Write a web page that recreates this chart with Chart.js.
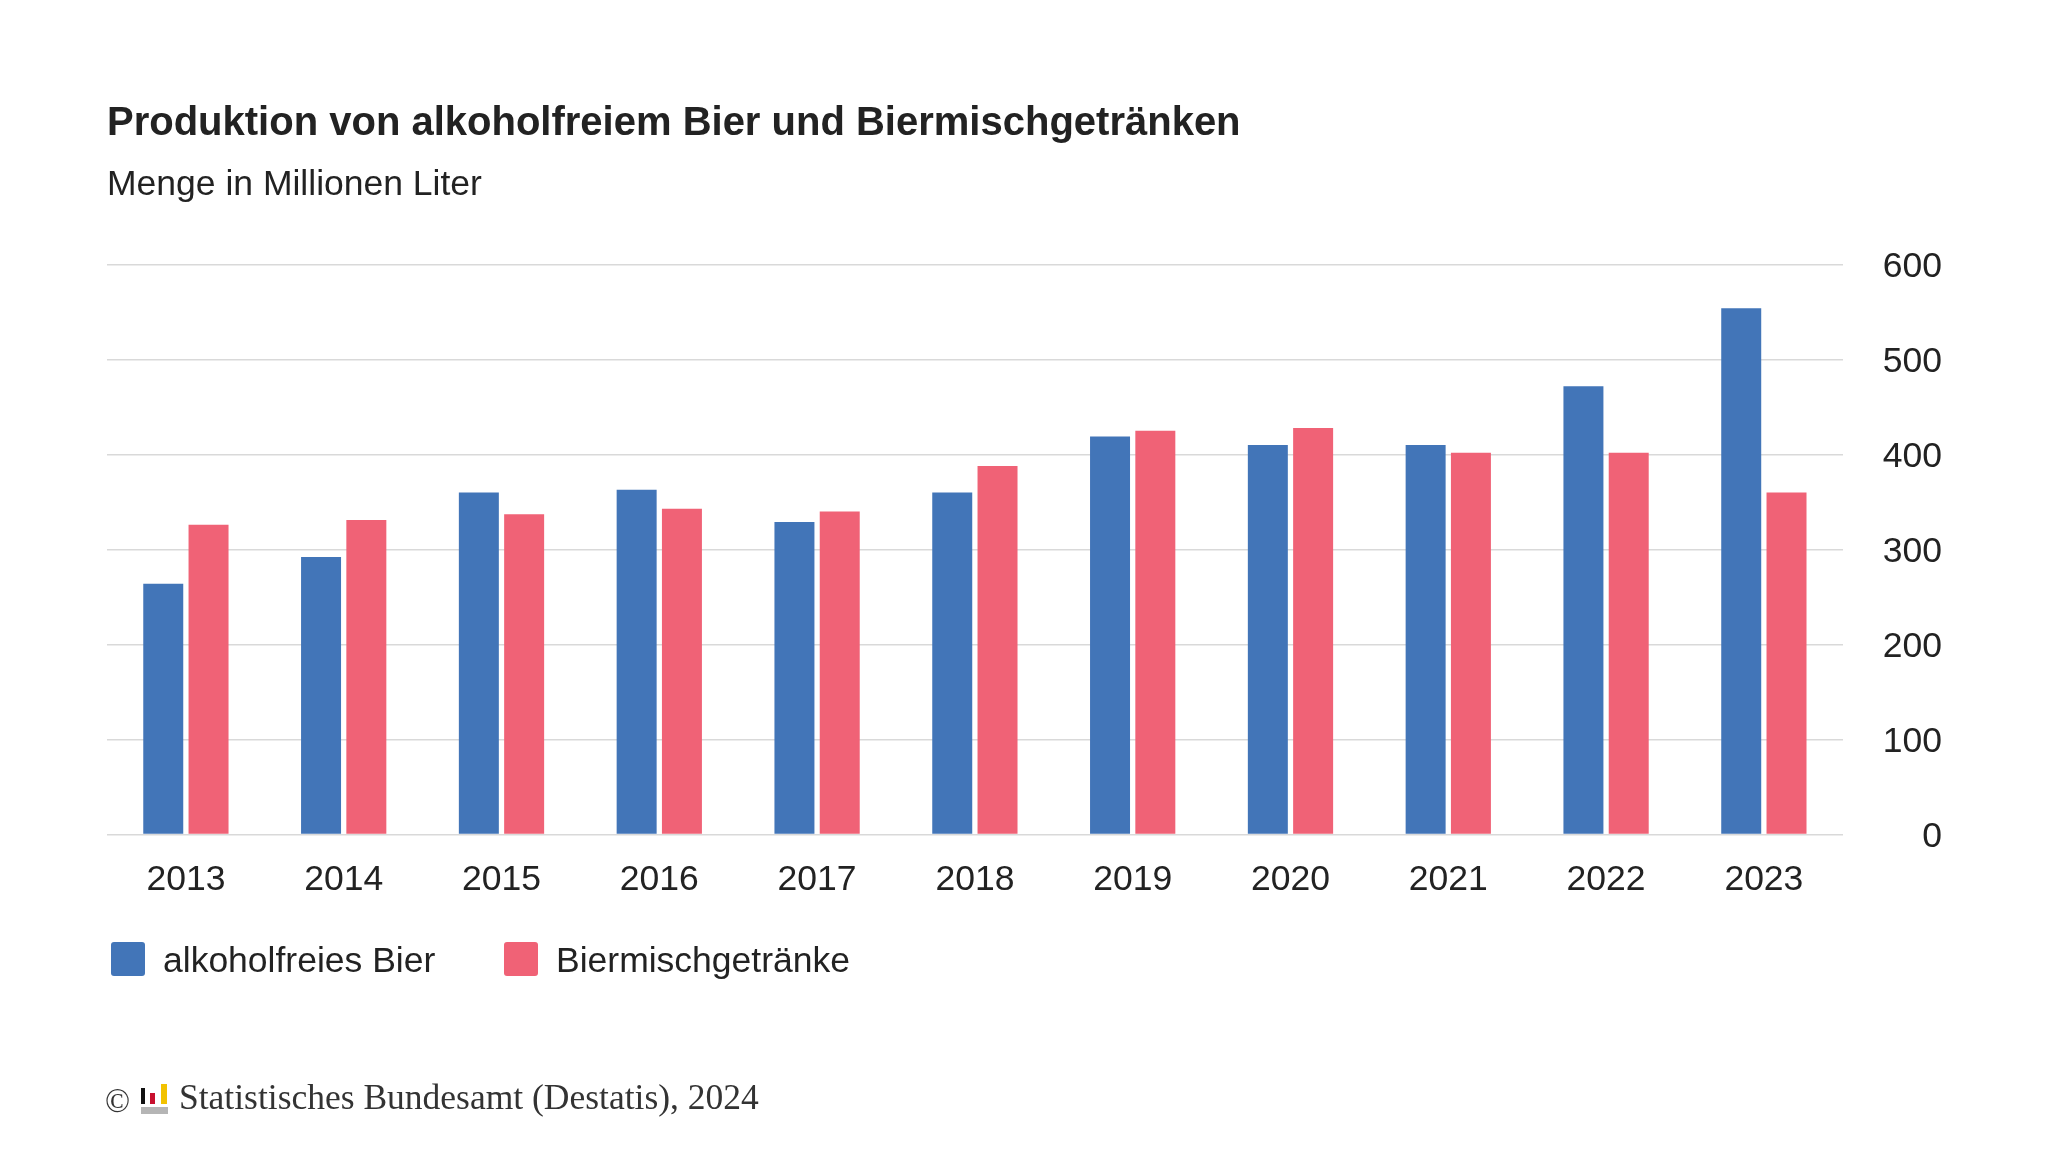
<!DOCTYPE html>
<html lang="de">
<head>
<meta charset="utf-8">
<title>Produktion von alkoholfreiem Bier und Biermischgetränken</title>
<script src="https://cdn.jsdelivr.net/npm/chart.js@4.4.1/dist/chart.umd.min.js"></script>
<style>
  html, body { margin: 0; padding: 0; background: #ffffff; }
  body { width: 2048px; height: 1152px; position: relative; overflow: hidden; }
  #c { position: absolute; left: 0; top: 0; }
  .leg-box { position: absolute; width: 34px; height: 34px; border-radius: 3px; }
  .leg-txt { position: absolute; font-family: "Liberation Sans", Arial, sans-serif; font-size: 35.5px; color: #222222; line-height: 34px; white-space: nowrap; }
  .foot { position: absolute; font-family: "Liberation Serif", "Times New Roman", serif; color: #333333; white-space: nowrap; }
</style>
</head>
<body>
<canvas id="c" width="2048" height="1152"></canvas>

<div class="leg-box" id="lb0" style="left:111px; top:942px;"></div>
<div class="leg-txt" id="lt0" style="left:163px; top:943px;"></div>
<div class="leg-box" id="lb1" style="left:504px; top:942px;"></div>
<div class="leg-txt" id="lt1" style="left:556px; top:943px;"></div>

<div class="foot" style="left:105px; top:1081px; font-size:33px; line-height:40px;">©</div>
<svg style="position:absolute; left:140px; top:1083px;" width="30" height="32" viewBox="0 0 30 32">
  <rect x="1" y="5" width="4" height="16" fill="#111111"/>
  <rect x="10" y="10" width="5" height="11" fill="#c8102e"/>
  <rect x="21" y="1" width="6" height="20" fill="#f2c200"/>
  <rect x="1" y="24" width="27" height="7" fill="#b5b5b5"/>
</svg>
<div class="foot" style="left:179px; top:1075px; font-size:35.5px; line-height:44px;">Statistisches Bundesamt (Destatis), 2024</div>

<script>
// ---- Data ----
const years = ["2013", "2014", "2015", "2016", "2017", "2018", "2019", "2020", "2021", "2022", "2023"];
const alkoholfreiesBier = [264, 292, 360, 363, 329, 360, 419, 410, 410, 472, 554];
const biermischgetraenke = [326, 331, 337, 343, 340, 388, 425, 428, 402, 402, 360];
const seriesNames = ["alkoholfreies Bier", "Biermischgetränke"];
const seriesColors = ["#4275b8", "#f06276"];
const yTicks = [0, 100, 200, 300, 400, 500, 600];
const titleText = "Produktion von alkoholfreiem Bier und Biermischgetränken";
const subtitleText = "Menge in Millionen Liter";

// HTML legend (real text)
for (let i = 0; i < 2; i++) {
  document.getElementById("lb" + i).style.background = seriesColors[i];
  document.getElementById("lt" + i).textContent = seriesNames[i];
}

const FONT = "'Liberation Sans', Arial, sans-serif";

new Chart(document.getElementById("c"), {
  type: "bar",
  data: {
    labels: years,
    datasets: [
      { label: seriesNames[0], data: alkoholfreiesBier, backgroundColor: seriesColors[0], borderWidth: 0,
        categoryPercentage: 0.574, barPercentage: 0.883 },
      { label: seriesNames[1], data: biermischgetraenke, backgroundColor: seriesColors[1], borderWidth: 0,
        categoryPercentage: 0.574, barPercentage: 0.883 }
    ]
  },
  options: {
    responsive: false,
    animation: false,
    devicePixelRatio: 1,
    layout: { padding: { left: 107, right: 106, top: 100, bottom: 233 } },
    plugins: {
      legend: { display: false },
      tooltip: { enabled: false },
      title: {
        display: true, text: titleText, align: "start", color: "#222222",
        font: { family: FONT, size: 40, weight: "bold", lineHeight: 1.2 },
        padding: { top: 0, bottom: 0 }
      },
      subtitle: {
        display: true, text: subtitleText, align: "start", color: "#222222",
        font: { family: FONT, size: 35.5, weight: "normal", lineHeight: 1.2 },
        padding: { top: 16, bottom: 58 }
      }
    },
    scales: {
      x: {
        grid: { display: false },
        border: { display: false },
        ticks: { color: "#222222", font: { family: FONT, size: 35.5 }, padding: 17, maxRotation: 0 }
      },
      y: {
        position: "right",
        min: 0, max: 600,
        afterBuildTicks: (axis) => { axis.ticks = yTicks.map(v => ({ value: v })); },
        grid: { color: "#d9d9d9", lineWidth: 1.5, drawTicks: false },
        border: { display: false },
        ticks: { color: "#222222", font: { family: FONT, size: 35.5 }, padding: 20, crossAlign: "far", labelOffset: 3 }
      }
    }
  }
});
</script>
</body>
</html>
